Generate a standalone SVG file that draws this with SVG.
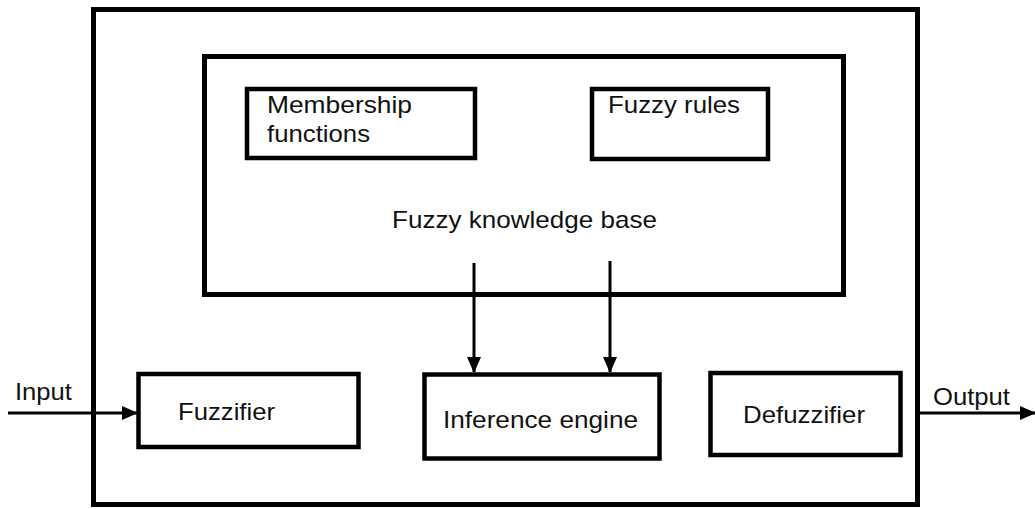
<svg xmlns="http://www.w3.org/2000/svg" width="1035" height="509" viewBox="0 0 1035 509">
<style>
.box{fill:none;stroke:#000;stroke-width:5}
.ibox{fill:#fff;stroke:#000;stroke-width:4.5}
.t{font-family:"Liberation Sans",Arial,sans-serif;font-size:24px;fill:#111}
.c{stroke:#000;stroke-width:3;fill:none}
</style>
<defs>
<marker id="ah" markerWidth="16" markerHeight="14" refX="15" refY="7" orient="auto" markerUnits="userSpaceOnUse">
<path d="M0,0 L16,7 L0,14 Z" fill="#000"/>
</marker>
</defs>
<rect width="1035" height="509" fill="#fff"/>
<g id="system"><rect class="box" x="93.5" y="9.5" width="824" height="495"/></g>
<g id="knowledge-base">
<rect class="box" x="204.5" y="56.5" width="639" height="238"/>
<text class="t" x="392" y="228" textLength="265" lengthAdjust="spacingAndGlyphs">Fuzzy knowledge base</text>
</g>
<g id="membership">
<rect class="ibox" x="247" y="89" width="228" height="69"/>
<text class="t" x="267" y="113" textLength="145" lengthAdjust="spacingAndGlyphs">Membership</text>
<text class="t" x="267" y="142" textLength="103" lengthAdjust="spacingAndGlyphs">functions</text>
</g>
<g id="rules">
<rect class="ibox" x="592" y="89" width="176" height="70"/>
<text class="t" x="608" y="113" textLength="132" lengthAdjust="spacingAndGlyphs">Fuzzy rules</text>
</g>
<g id="fuzzifier">
<rect class="ibox" x="138.5" y="374" width="220" height="73"/>
<text class="t" x="178" y="420" textLength="97" lengthAdjust="spacingAndGlyphs">Fuzzifier</text>
</g>
<g id="inference">
<rect class="ibox" x="424.5" y="374.5" width="235" height="84"/>
<text class="t" x="443" y="428" textLength="195" lengthAdjust="spacingAndGlyphs">Inference engine</text>
</g>
<g id="defuzzifier">
<rect class="ibox" x="710.5" y="373" width="190" height="82"/>
<text class="t" x="743" y="423" textLength="122" lengthAdjust="spacingAndGlyphs">Defuzzifier</text>
</g>
<g id="connectors">
<line class="c" x1="474" y1="263" x2="474" y2="372" marker-end="url(#ah)"/>
<line class="c" x1="610" y1="261" x2="610" y2="372" marker-end="url(#ah)"/>
<line class="c" x1="8" y1="413" x2="137" y2="413" marker-end="url(#ah)"/>
<line class="c" x1="918" y1="413" x2="1035" y2="413" marker-end="url(#ah)"/>
<text class="t" x="15" y="400" textLength="57" lengthAdjust="spacingAndGlyphs">Input</text>
<text class="t" x="933" y="405" textLength="77" lengthAdjust="spacingAndGlyphs">Output</text>
</g>
</svg>
